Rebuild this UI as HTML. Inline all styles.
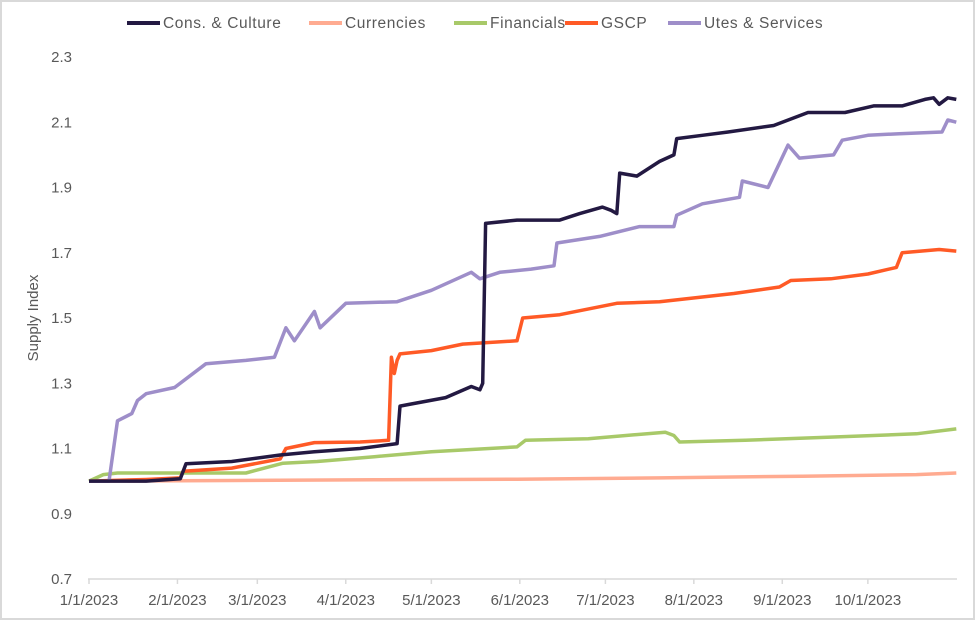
<!DOCTYPE html>
<html><head><meta charset="utf-8"><style>
body{margin:0;background:#fff;}
svg{display:block;font-family:"Liberation Sans",sans-serif;}
</style></head><body>
<svg id="chart" width="975" height="621" viewBox="0 0 975 621">
<rect x="1" y="1" width="973" height="618" fill="#fff" stroke="#d9d9d9" stroke-width="2"/>
<g id="grid"></g><g id="lines"></g><g id="legend"></g>
<text transform="translate(38,318) rotate(-90)" text-anchor="middle" font-size="15" fill="#595959">Supply Index</text>
</svg>
<script>
const yTicks=[0.7,0.9,1.1,1.3,1.5,1.7,1.9,2.1,2.3];
const xTickLabels=["1/1/2023","2/1/2023","3/1/2023","4/1/2023","5/1/2023","6/1/2023","7/1/2023","8/1/2023","9/1/2023","10/1/2023"];
const xTickDays=[0,31,59,90,120,151,181,212,243,273];
const seriesNames=["Cons. & Culture","Currencies","Financials","GSCP","Utes & Services"];
const seriesColors=["#231942","#ffab91","#a8c969","#ff5a26","#9e8ec9"];
const consDays=[0,20,32,34,50,67,79,95,108,109,112,125,134,137,138,139,150,165,172,180,183,185,186,192,200,205,206,215,224,240,252,265,275,285,293,296,298,301,304];
const consVals=[1.0,1.0,1.007,1.053,1.06,1.08,1.09,1.10,1.115,1.23,1.235,1.256,1.29,1.28,1.30,1.79,1.80,1.80,1.82,1.84,1.83,1.82,1.944,1.935,1.98,2.00,2.05,2.06,2.07,2.09,2.13,2.13,2.15,2.15,2.17,2.175,2.155,2.175,2.17];
const curDays=[0,50,100,150,200,250,290,304];
const curVals=[1.0,1.002,1.004,1.006,1.01,1.015,1.02,1.025];
const finDays=[0,5,10,55,68,80,100,120,150,153,175,202,205,207,230,260,290,304];
const finVals=[1.0,1.02,1.025,1.025,1.055,1.06,1.075,1.09,1.105,1.125,1.13,1.15,1.14,1.12,1.125,1.135,1.145,1.16];
const gscpDays=[0,20,32,33,50,67,69,79,95,105,106,107,108,109,120,131,150,152,165,185,200,226,242,246,260,273,283,285,298,304];
const gscpVals=[1.0,1.005,1.01,1.03,1.04,1.068,1.10,1.118,1.12,1.125,1.38,1.33,1.37,1.39,1.40,1.42,1.43,1.50,1.51,1.545,1.55,1.575,1.595,1.615,1.62,1.635,1.655,1.70,1.71,1.705];
const utesDays=[0,7,10,15,17,20,30,41,55,65,69,72,79,81,90,108,120,134,137,144,155,163,164,179,193,205,206,215,228,229,238,245,249,261,264,273,284,299,301,304];
const utesVals=[1.0,1.0,1.185,1.207,1.247,1.268,1.287,1.36,1.37,1.38,1.47,1.43,1.52,1.47,1.545,1.55,1.585,1.64,1.62,1.64,1.65,1.66,1.73,1.75,1.78,1.78,1.815,1.85,1.87,1.92,1.90,2.03,1.99,2.00,2.045,2.06,2.065,2.07,2.107,2.10];
const seriesDays=[consDays,curDays,finDays,gscpDays,utesDays];
const seriesVals=[consVals,curVals,finVals,gscpVals,utesVals];
const X0=89,PXD=2.853,Y0=579,PXV=326.25;
function xS(d){return X0+d*PXD;}
function yS(v){return Y0-(v-0.7)*PXV;}
const NS="http://www.w3.org/2000/svg";
const grid=document.getElementById('grid'),lines=document.getElementById('lines'),legend=document.getElementById('legend');
function mk(t,a,p){const e=document.createElementNS(NS,t);for(const k in a)e.setAttribute(k,a[k]);p.appendChild(e);return e;}
const ax=mk('line',{x1:88,x2:957,y1:Y0,y2:Y0,stroke:'#d9d9d9','stroke-width':1.5},grid);


yTicks.forEach(v=>{
 const t=mk('text',{x:72,y:yS(v)+5,'text-anchor':'end','font-size':15,fill:'#595959'},grid);
 
 
 t.textContent=v.toFixed(1);
});
xTickDays.forEach((d,i)=>{
 const tk=mk('line',{x1:xS(d),x2:xS(d),y1:Y0,y2:Y0+5,stroke:'#d9d9d9','stroke-width':1.5},grid);
 
 
 const t=mk('text',{x:xS(d),y:605,'text-anchor':'middle','font-size':15,fill:'#595959'},grid);
 
 
 t.textContent=xTickLabels[i];
});
const order=[1,2,3,4,0];
order.forEach(i=>{
 const pts=seriesDays[i].map((d,j)=>xS(d).toFixed(1)+','+yS(seriesVals[i][j]).toFixed(1)).join(' ');
 const p=mk('polyline',{points:pts,fill:'none',stroke:seriesColors[i],'stroke-width':3.5,'stroke-linejoin':'round'},lines);
 
 
});
const legX=[127,309,454,565,668];
seriesNames.forEach((n,i)=>{
 const g=mk('g',{},legend);
 
 
 mk('line',{x1:legX[i],x2:legX[i]+33,y1:23,y2:23,stroke:seriesColors[i],'stroke-width':4},g);
 const t=mk('text',{x:legX[i]+36,y:28,'font-size':15.5,'letter-spacing':'0.6',fill:'#595959'},g);
 t.textContent=n;
});
</script>
</body></html>
